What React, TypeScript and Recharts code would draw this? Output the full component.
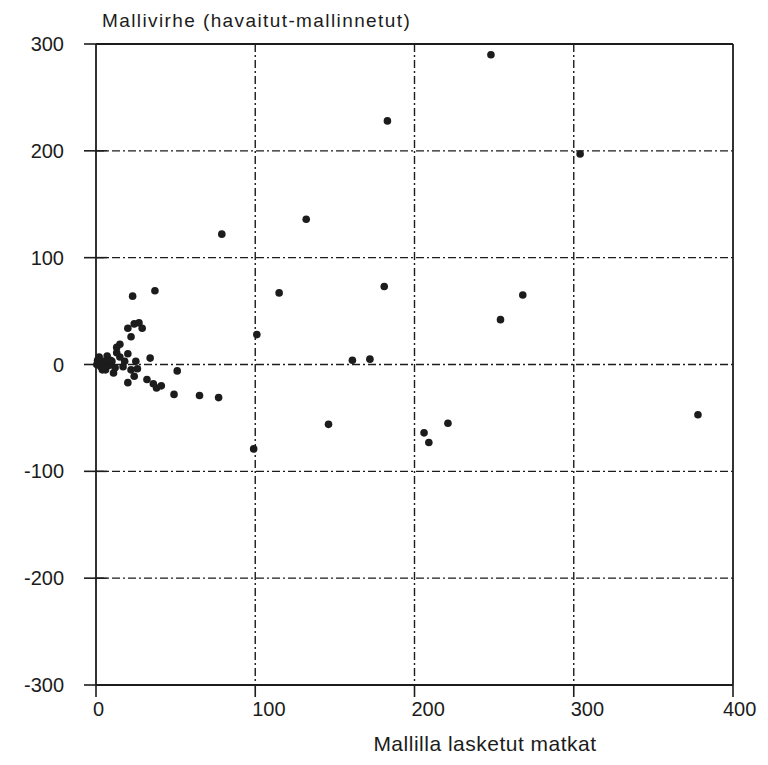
import React from 'react';
import {
  ScatterChart,
  Scatter,
  XAxis,
  YAxis,
  CartesianGrid,
  ReferenceLine,
  Label,
} from 'recharts';

// Model-computed trips (x) and model error, observed minus modelled (y)
const tripsModelled: number[] = [
  0.5, 1, 2, 3, 5, 4, 6, 7, 8, 10, 11, 13, 15, 15, 17, 20, 20, 22, 22, 20, 24, 27, 29,
  23, 37, 25, 26, 24, 34, 32, 36, 38, 41, 49, 51, 65, 77,
  2, 5, 9, 12, 18, 13,
  79, 101, 99, 115, 132, 146, 161, 172, 181, 183, 206, 209, 221, 248, 254, 268, 304, 378,
];
const modelError: number[] = [
  0, 4, 7, -2, 3, -5, -5, 8, -1, 3, -8, 16, 19, 7, -2, 10, -17, -5, 26, 34, 38, 39, 34,
  64, 69, 3, -4, -11, 6, -14, -18, -22, -20, -28, -6, -29, -31,
  2, -2, 4, -3, 3, 11,
  122, 28, -79, 67, 136, -56, 4, 5, 73, 228, -64, -73, -55, 290, 42, 65, 197, -47,
];

const xTicks: number[] = [0, 100, 200, 300, 400];
const yTicks: number[] = [-300, -200, -100, 0, 100, 200, 300];

const titleText = 'Mallivirhe  (havaitut-mallinnetut)';
const xAxisText = 'Mallilla lasketut matkat';

const points = tripsModelled.map((x, i) => ({ x, y: modelError[i] }));

const INK = '#1c1c1c';
const FONT = '"Liberation Sans", Arial, Helvetica, sans-serif';

// x tick labels sit just right of their tick; the last one is pulled in to stay on the page
const XTick = (props: any) => {
  const { x, y, payload, index } = props;
  const dx = index === xTicks.length - 1 ? -10 : -3;
  return (
    <text x={x + dx} y={y + 17} textAnchor="start" fontSize={20} fill={INK} fontFamily={FONT}>
      {payload.value}
    </text>
  );
};

const Dot = (props: any) => <circle cx={props.cx} cy={props.cy} r={3.8} fill={INK} />;

export default function App() {
  return (
    <div style={{ width: 760, height: 757, fontFamily: FONT }}>
      <ScatterChart
        width={760}
        height={757}
        margin={{ top: 36, right: 35, bottom: 40, left: 0 }}
      >
        <CartesianGrid
          stroke={INK}
          strokeWidth={1.4}
          strokeDasharray="8 3 2 3"
          horizontalValues={yTicks.slice(1, -1)}
          verticalValues={xTicks.slice(1, -1)}
        />
        <XAxis
          type="number"
          dataKey="x"
          domain={[0, 400]}
          ticks={xTicks}
          interval={0}
          height={40}
          tickSize={12}
          tickMargin={2}
          axisLine={{ stroke: INK, strokeWidth: 1.8 }}
          tickLine={{ stroke: INK, strokeWidth: 1.6 }}
          tick={<XTick />}
        >
          <Label
            content={() => (
              <text
                x={477}
                y={743}
                textAnchor="middle"
                fontSize={21}
                letterSpacing={0.5}
                fill={INK}
                fontFamily={FONT}
              >
                {xAxisText}
              </text>
            )}
          />
        </XAxis>
        <YAxis
          type="number"
          dataKey="y"
          domain={[-300, 300]}
          ticks={yTicks}
          interval={0}
          width={88}
          tickSize={12}
          tickMargin={20}
          axisLine={{ stroke: INK, strokeWidth: 1.8 }}
          tickLine={{ stroke: INK, strokeWidth: 1.6 }}
          tick={{ fontSize: 20, fill: INK, fontFamily: FONT }}
        >
          <Label
            content={() => (
              <text
                x={94}
                y={19}
                textAnchor="start"
                fontSize={19}
                letterSpacing={1.4}
                fill={INK}
                fontFamily={FONT}
              >
                {titleText}
              </text>
            )}
          />
        </YAxis>
        {/* frame: top and right border */}
        <ReferenceLine y={300} stroke={INK} strokeWidth={1.8} />
        <ReferenceLine x={400} stroke={INK} strokeWidth={1.8} />
        {/* short solid tick stubs inside the left axis */}
        {yTicks.map((t) => (
          <ReferenceLine
            key={`stub-${t}`}
            segment={[
              { x: 0, y: t },
              { x: 7, y: t },
            ]}
            stroke={INK}
            strokeWidth={1.6}
          />
        ))}
        <Scatter data={points} shape={<Dot />} isAnimationActive={false} />
      </ScatterChart>
    </div>
  );
}
